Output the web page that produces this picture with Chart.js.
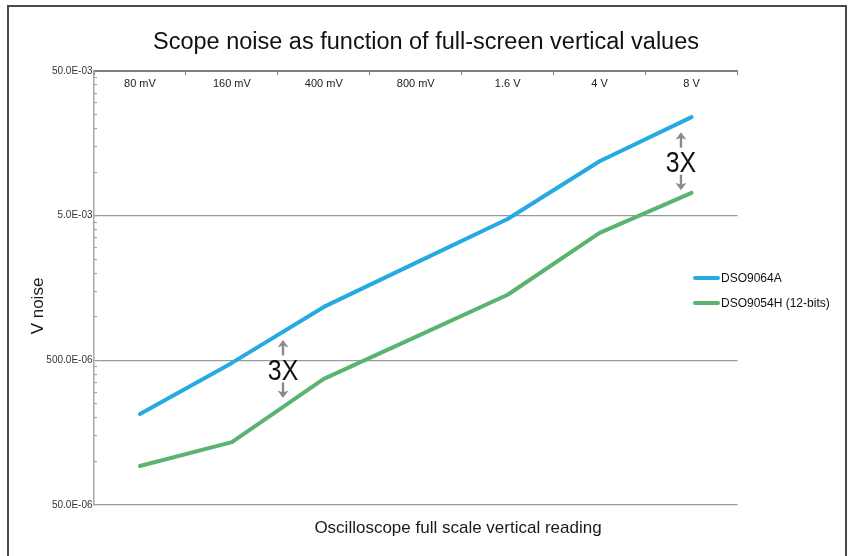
<!DOCTYPE html>
<html>
<head>
<meta charset="utf-8">
<script src="https://cdn.jsdelivr.net/npm/chart.js@4/dist/chart.umd.min.js"></script>
<style>
html,body{margin:0;padding:0;background:#fff;}
canvas{display:block;}
</style>
</head>
<body>
<canvas id="c" width="853" height="556"></canvas>
<script>
// ---- data ----
const categories = ['80 mV', '160 mV', '400 mV', '800 mV', '1.6 V', '4 V', '8 V'];
const seriesNames = ['DSO9064A', 'DSO9054H (12-bits)'];
const dso9064A = [2.13e-4, 4.80e-4, 1.17e-3, 2.36e-3, 4.74e-3, 1.19e-2, 2.40e-2];
const dso9054H = [9.3e-5, 1.36e-4, 3.72e-4, 7.26e-4, 1.42e-3, 3.80e-3, 7.18e-3];
const yMajorValues = [5e-5, 5e-4, 5e-3, 5e-2];
const yMajorLabels = ['50.0E-06', '500.0E-06', '5.0E-03', '50.0E-03'];
const chartTitle = 'Scope noise as function of full-screen vertical values';
const xTitle = 'Oscilloscope full scale vertical reading';
const yTitle = 'V noise';
// "3X" annotations: x = category index position, y = value at text centre
const annX = [1.556, 5.885];
const annY = [4.36e-4, 1.19e-2];
const annText = ['3X', '3X'];

const colors = ['#27aae1', '#5bb370'];
const SANS = '"Liberation Sans", Arial, sans-serif';

function isMajor(v) {
  return yMajorValues.some(m => Math.abs(m - v) / m < 1e-6);
}

const decor = {
  id: 'decor',
  beforeDraw(chart) {
    const ctx = chart.ctx;
    ctx.save();
    ctx.fillStyle = '#fff';
    ctx.fillRect(0, 0, chart.width, chart.height);
    ctx.strokeStyle = '#4a4a4a';
    ctx.lineWidth = 2;
    ctx.strokeRect(8, 6, 838, 560);
    ctx.restore();
  },
  afterDraw(chart) {
    const ctx = chart.ctx;
    const xs = chart.scales.x, ys = chart.scales.y;
    ctx.save();
    // title
    ctx.fillStyle = '#111';
    ctx.font = '23.5px ' + SANS;
    ctx.textAlign = 'center';
    ctx.textBaseline = 'alphabetic';
    ctx.fillText(chartTitle, 426, 49);
    // x title
    ctx.font = '17px ' + SANS;
    ctx.fillStyle = '#1a1a1a';
    ctx.fillText(xTitle, 458, 533);
    // y title
    ctx.save();
    ctx.translate(43, 306);
    ctx.rotate(-Math.PI / 2);
    ctx.font = '17px ' + SANS;
    ctx.fillText(yTitle, 0, 0);
    ctx.restore();
    // legend
    chart.data.datasets.forEach((ds, i) => {
      const y = 278 + i * 25;
      ctx.strokeStyle = ds.borderColor;
      ctx.lineWidth = 4;
      ctx.lineCap = 'round';
      ctx.beginPath();
      ctx.moveTo(695, y);
      ctx.lineTo(718, y);
      ctx.stroke();
      ctx.fillStyle = '#111';
      ctx.font = '12px ' + SANS;
      ctx.textAlign = 'left';
      ctx.textBaseline = 'middle';
      ctx.fillText(ds.label, 721, y + 0.5);
    });
    // annotations
    for (let i = 0; i < annX.length; i++) {
      const px = xs.getPixelForValue(annX[i]);
      const py = ys.getPixelForValue(annY[i]);
      ctx.save();
      ctx.translate(px, py + 10.8);
      ctx.scale(0.83, 1);
      ctx.fillStyle = '#111';
      ctx.font = '30px ' + SANS;
      ctx.textAlign = 'center';
      ctx.textBaseline = 'alphabetic';
      ctx.fillText(annText[i], 0, 0);
      ctx.restore();
      ctx.strokeStyle = '#8a8a8a';
      ctx.fillStyle = '#8a8a8a';
      ctx.lineWidth = 2.4;
      ctx.lineCap = 'butt';
      [-1, 1].forEach(dir => {
        const base = py + dir * 13.5;
        const tip = py + dir * 29;
        ctx.beginPath();
        ctx.moveTo(px, base);
        ctx.lineTo(px, tip - dir * 5);
        ctx.stroke();
        ctx.beginPath();
        ctx.moveTo(px, tip);
        ctx.lineTo(px - 5.5, tip - dir * 7.5);
        ctx.lineTo(px, tip - dir * 5.5);
        ctx.lineTo(px + 5.5, tip - dir * 7.5);
        ctx.closePath();
        ctx.fill();
      });
    }
    ctx.restore();
  }
};

new Chart(document.getElementById('c'), {
  type: 'line',
  data: {
    labels: categories,
    datasets: [
      { label: seriesNames[0], data: dso9064A, borderColor: colors[0], backgroundColor: colors[0] },
      { label: seriesNames[1], data: dso9054H, borderColor: colors[1], backgroundColor: colors[1] }
    ]
  },
  options: {
    responsive: false,
    animation: false,
    events: [],
    layout: { padding: { left: 0, top: 0, right: 115.5, bottom: 51 } },
    elements: {
      line: { borderWidth: 4, tension: 0, borderCapStyle: 'round', borderJoinStyle: 'round', fill: false },
      point: { radius: 0, hoverRadius: 0 }
    },
    plugins: {
      legend: { display: false },
      tooltip: { enabled: false },
      title: { display: false }
    },
    scales: {
      x: {
        type: 'category',
        position: 'top',
        offset: true,
        grid: { offset: true, drawOnChartArea: false, drawTicks: true, tickLength: -4, tickColor: '#7f7f7f', tickWidth: 1 },
        border: { color: '#7f7f7f', width: 2 },
        ticks: { mirror: true, padding: 6, autoSkip: false, maxRotation: 0, color: '#222', font: { family: SANS, size: 11 } },
        afterFit(s) { s.height = 71; }
      },
      y: {
        type: 'logarithmic',
        position: 'left',
        min: 5e-5,
        max: 5e-2,
        afterBuildTicks(scale) {
          const t = [];
          for (let i = 0; i < yMajorValues.length; i++) {
            const base = yMajorValues[i];
            t.push({ value: base });
            if (i < yMajorValues.length - 1) {
              for (let k = 2; k <= 9; k++) t.push({ value: base * k });
            }
          }
          scale.ticks = t;
        },
        grid: {
          color: (c) => (c.tick && isMajor(c.tick.value)) ? '#9a9a9a' : 'rgba(0,0,0,0)',
          lineWidth: 1.2,
          drawTicks: true,
          tickLength: -3,
          tickColor: '#9a9a9a',
          tickWidth: 1
        },
        border: { color: '#a8a8a8', width: 1.5 },
        ticks: {
          autoSkip: false,
          padding: 4.5,
          color: '#333',
          font: { family: SANS, size: 10 },
          callback: (v) => {
            const idx = yMajorValues.findIndex(m => Math.abs(m - v) / m < 1e-6);
            return idx >= 0 ? yMajorLabels[idx] : '';
          }
        },
        afterFit(s) { s.width = 94; }
      }
    }
  },
  plugins: [decor]
});
</script>
</body>
</html>
